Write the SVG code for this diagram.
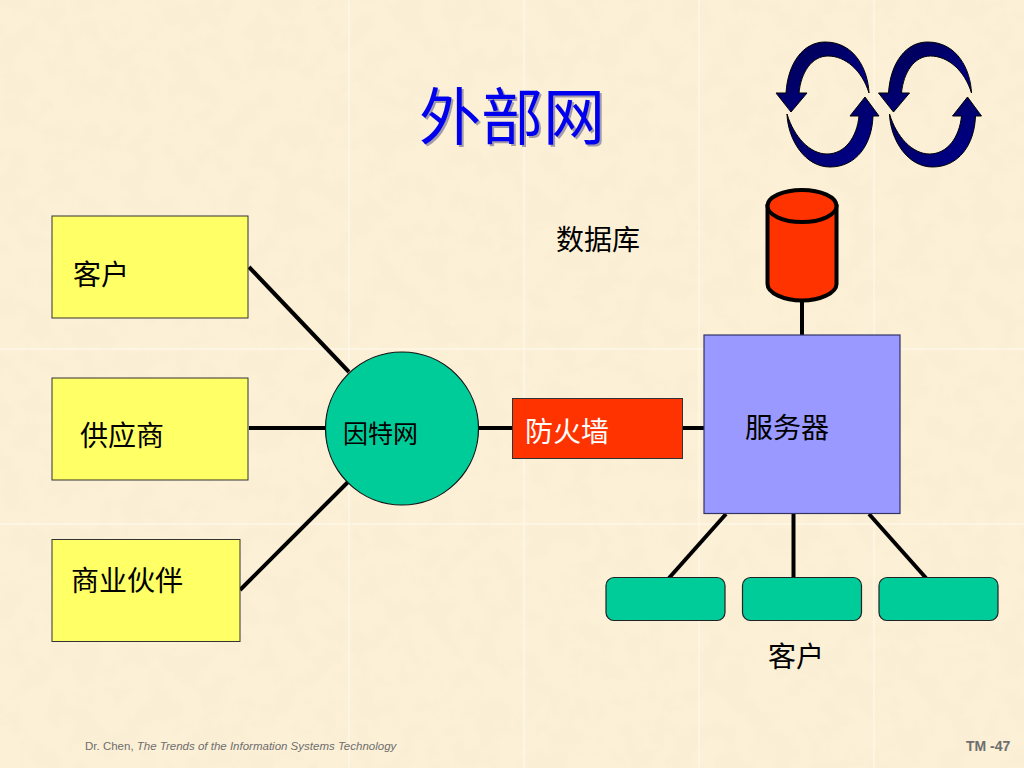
<svg xmlns="http://www.w3.org/2000/svg" xmlns:xlink="http://www.w3.org/1999/xlink" width="1024" height="768" viewBox="0 0 1024 768">
<style>
.t{font-family:"Noto Sans CJK SC","Liberation Sans",sans-serif;fill:#000}
.conn{stroke:#000;stroke-width:4;fill:none}
.box{stroke:#333;stroke-width:1}
.yellow{fill:#ffff66}
.client{fill:#00cc99;stroke:#222;stroke-width:1.2}
.seam{stroke:#fffaf0;stroke-width:1.5;opacity:.7}
.foot{font-family:"Liberation Sans",Arial,sans-serif;font-size:11.5px;fill:#6e6e6e}
</style>
<defs>
<filter id="mottle" x="0" y="0" width="100%" height="100%">
<feTurbulence type="fractalNoise" baseFrequency="0.04" numOctaves="3" seed="7"/>
<feColorMatrix type="matrix" values="0 0 0 0 0.95  0 0 0 0 0.85  0 0 0 0 0.66  4.5 0 0 0 -1.85"/>
</filter>
<linearGradient id="navy" x1="0" y1="0" x2="1" y2="1">
<stop offset="0" stop-color="#000050"/><stop offset="1" stop-color="#000090"/>
</linearGradient>
<g id="cycle">
<path d="M869 93C868 70 855 42 825 42C804 42 788 62 786 93L776 93L791 112L807 93L799 93C801 72 812 56 828 56C845 56 862 70 869 93Z" fill="url(#navy)" stroke="#000" stroke-width="1"/>
<path d="M787 114C788 140 805 167 830 167C856 167 872 145 873 116L879 116L865 97L850 116L859 116C857 137 845 154 827 154C810 154 794 137 787 114Z" fill="url(#navy)" stroke="#000" stroke-width="1"/>
</g>
</defs>
<rect width="1024" height="768" fill="#fcf0d6"/>
<rect width="1024" height="768" filter="url(#mottle)" opacity=".65"/>
<g id="seams">
<path class="seam" d="M349 0V768M524 0V768M699 0V768M874 0V768M0 349H1024M0 524H1024"/>
</g>
<g id="connectors">
<path class="conn" d="M249 267L349 372"/>
<path class="conn" d="M249 428H327"/>
<path class="conn" d="M240 590L349 481"/>
<path class="conn" d="M478 428H513"/>
<path class="conn" d="M683 428H704"/>
<path class="conn" d="M802 300V335"/>
<path class="conn" d="M726 514L669 578"/>
<path class="conn" d="M793.500 514V578"/>
<path class="conn" d="M869 514L926 578"/>
</g>
<g id="title">
<text class="t" x="421" y="141.500" font-size="62" style="fill:#00005a" opacity=".35">外部网</text>
<text class="t" x="419" y="140" font-size="62" style="fill:#0000ee">外部网</text>
</g>
<g id="cycle-arrows"><use xlink:href="#cycle" href="#cycle"/><use xlink:href="#cycle" href="#cycle" x="102.500"/></g>
<g id="customer"><rect class="box yellow" x="52" y="216" width="196" height="102"/><text class="t" x="73" y="285" font-size="28">客户</text></g>
<g id="supplier"><rect class="box yellow" x="52" y="378" width="196" height="102"/><text class="t" x="80" y="446" font-size="28">供应商</text></g>
<g id="partner"><rect class="box yellow" x="52" y="539.500" width="188" height="102"/><text class="t" x="71" y="591" font-size="28">商业伙伴</text></g>
<g id="internet"><circle cx="402" cy="428.500" r="76.500" fill="#00cc99" stroke="#111" stroke-width="1.200"/><text class="t" x="343" y="443" font-size="25">因特网</text></g>
<g id="firewall"><rect class="box" x="512.500" y="398.500" width="170" height="60" fill="#ff3300"/><text class="t" x="525" y="442" font-size="28" style="fill:#fff">防火墙</text></g>
<g id="server"><rect x="704" y="335" width="196" height="178.500" fill="#9999ff" stroke="#333366" stroke-width="1.200"/><text class="t" x="745" y="438" font-size="28">服务器</text></g>
<g id="database">
<path d="M767.500 206V284C767.500 293 784 300.500 802 300.500C820 300.500 836.500 293 836.500 284V206Z" fill="#ff3300" stroke="#000" stroke-width="4"/>
<ellipse cx="802" cy="206" rx="34.500" ry="16" fill="#ff3300" stroke="#000" stroke-width="4"/>
</g>
<g id="database-label"><text class="t" x="556" y="250" font-size="28">数据库</text></g>
<g id="client-1"><rect class="client" x="606" y="577.500" width="119" height="43" rx="8"/></g>
<g id="client-2"><rect class="client" x="742.500" y="577.500" width="119" height="43" rx="8"/></g>
<g id="client-3"><rect class="client" x="879" y="577.500" width="119" height="43" rx="8"/></g>
<g id="clients-label"><text class="t" x="768" y="667" font-size="28">客户</text></g>
<g id="footer">
<text class="foot" x="85" y="750">Dr. Chen, <tspan font-style="italic">The Trends of the Information Systems Technology</tspan></text>
<text class="foot" x="966" y="751" style="font-size:14px;font-weight:bold">TM -47</text>
</g>
</svg>
